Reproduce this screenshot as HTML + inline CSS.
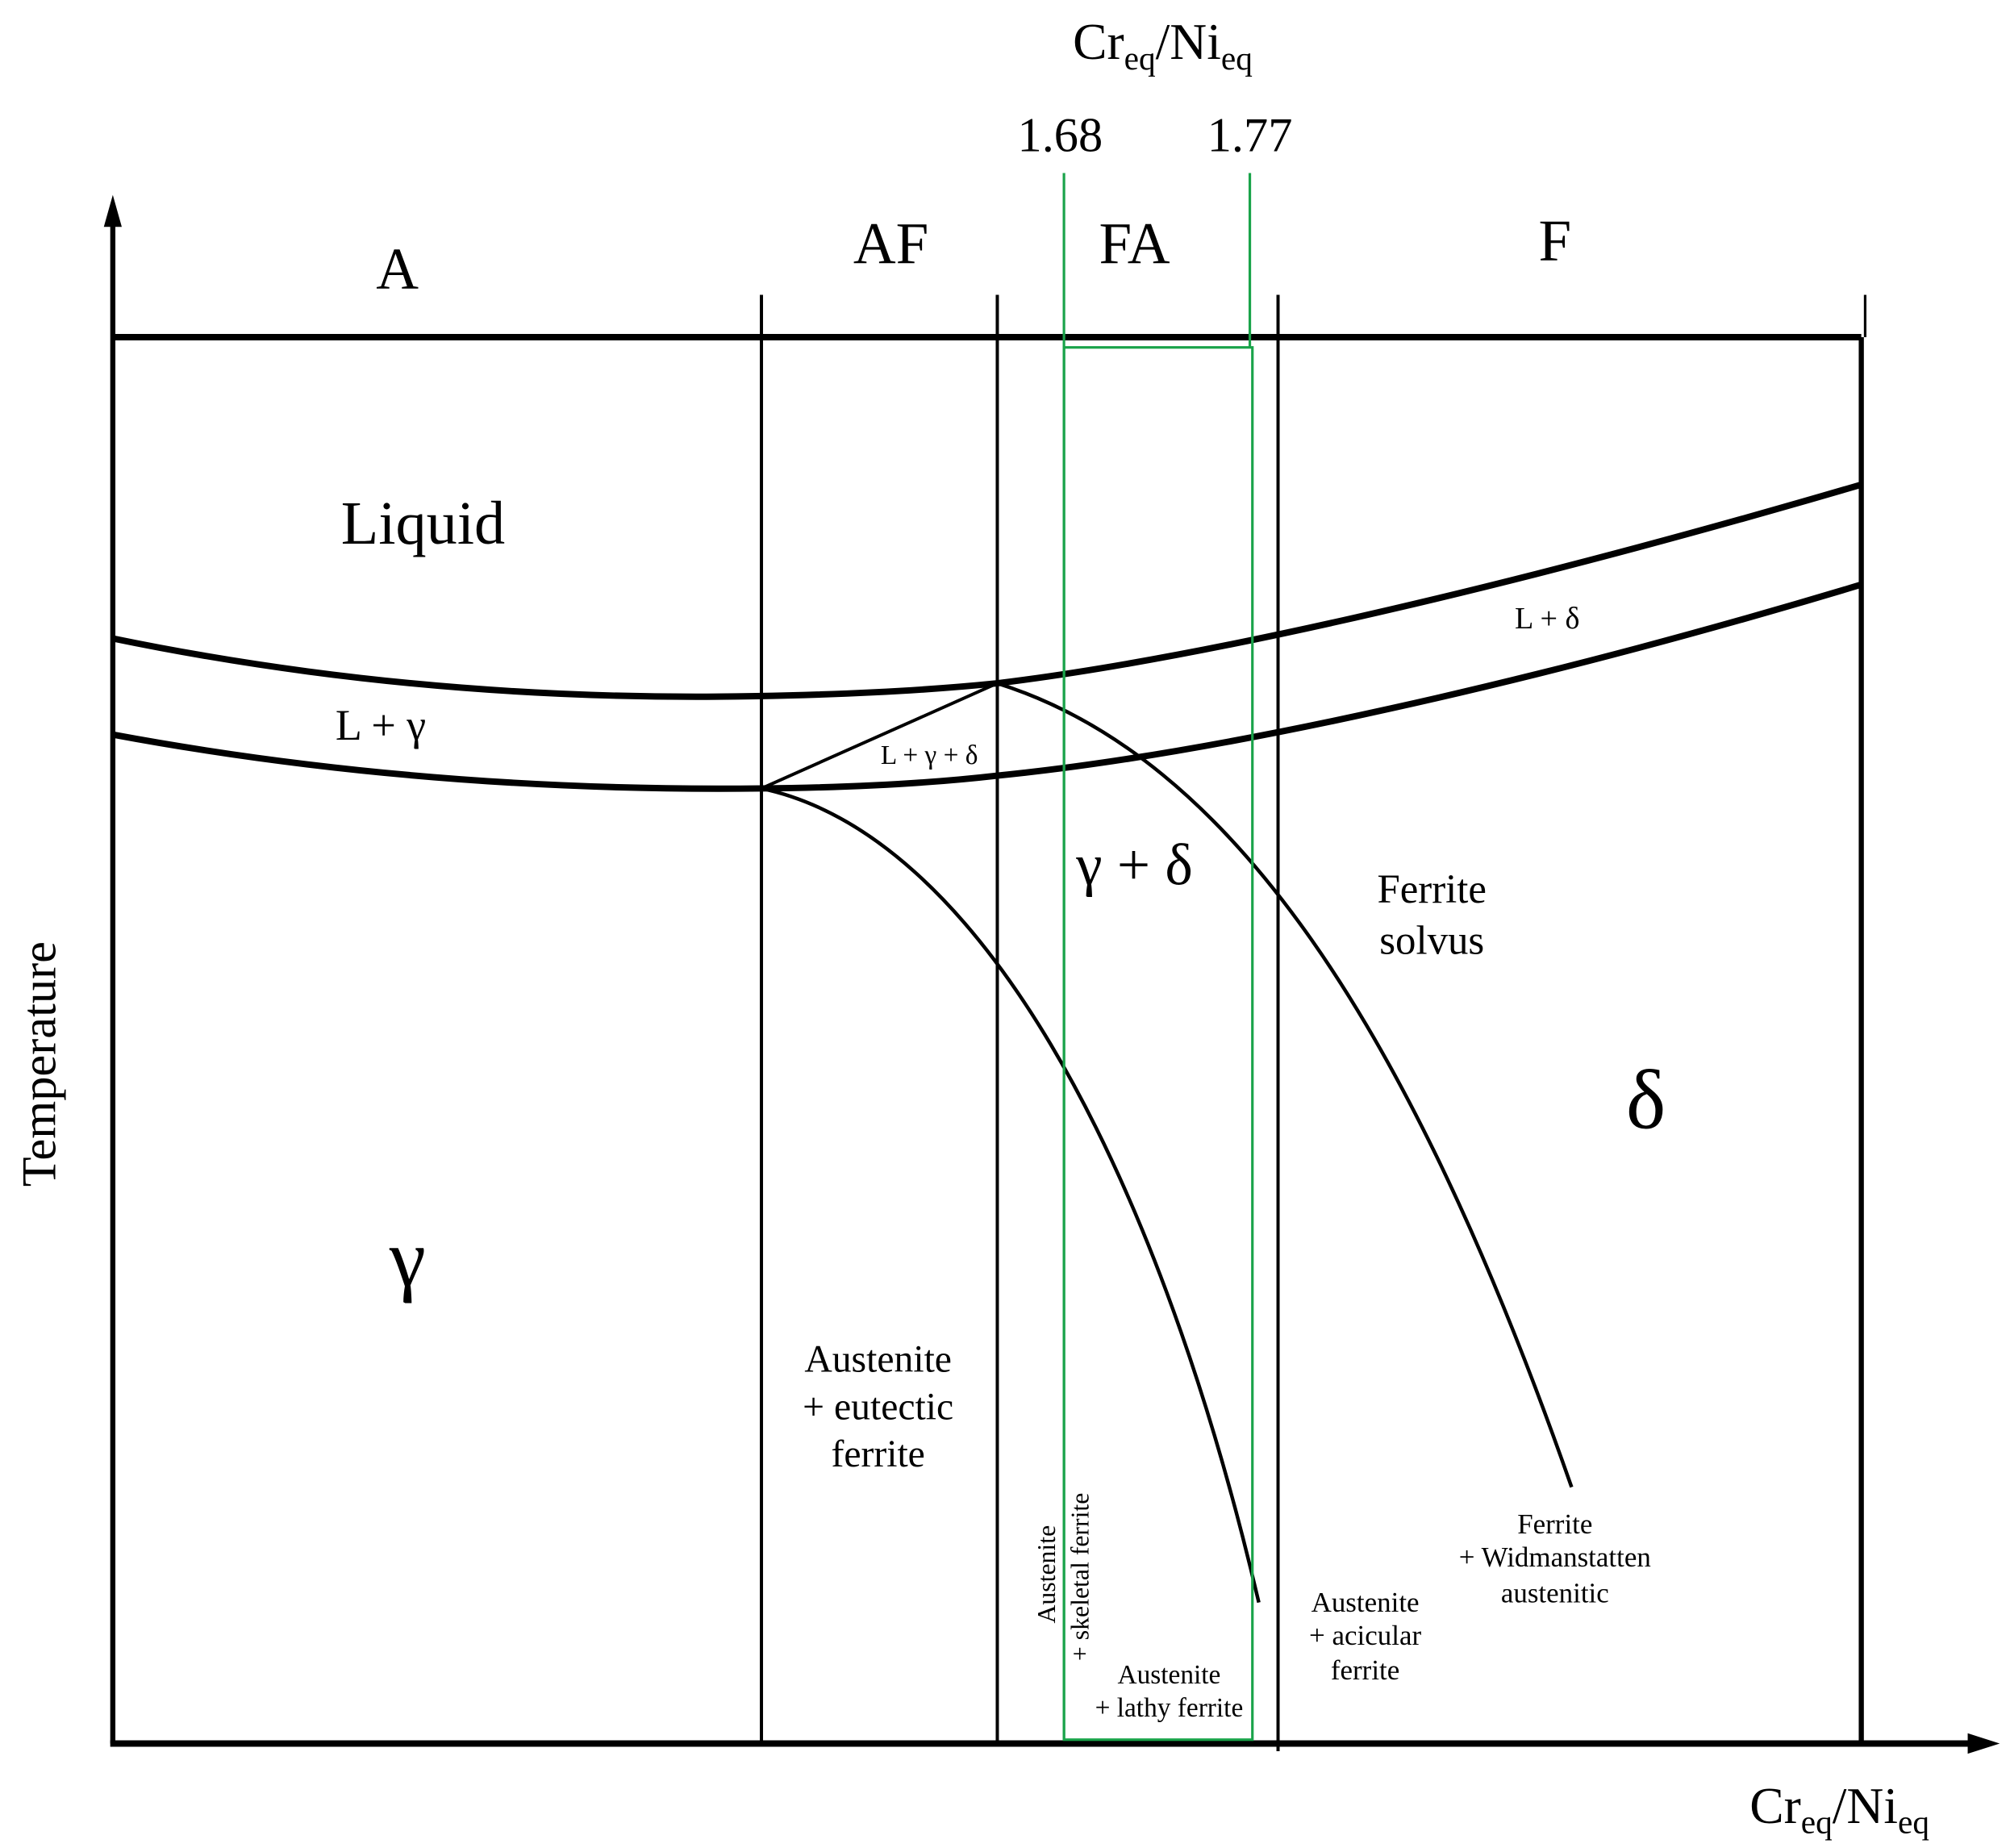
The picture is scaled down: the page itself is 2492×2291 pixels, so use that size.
<!DOCTYPE html>
<html><head><meta charset="utf-8"><style>
html,body{margin:0;padding:0;background:#fff;}
svg{display:block;}
text,tspan{font-family:"Liberation Serif",serif !important;fill:#000;}
</style></head><body>
<svg width="2492" height="2291" viewBox="0 0 1568 1441.5" preserveAspectRatio="none" xmlns="http://www.w3.org/2000/svg">
<g stroke="#000" fill="none">
<line x1="88" y1="1360" x2="88" y2="170" stroke-width="4"/>
<line x1="88" y1="263" x2="1452" y2="263" stroke-width="5"/>
<line x1="1452" y1="263" x2="1452" y2="1360" stroke-width="4"/>
<line x1="1455" y1="230" x2="1455" y2="263" stroke-width="2"/>
<line x1="594" y1="230" x2="594" y2="1360" stroke-width="2.5"/>
<line x1="778" y1="230" x2="778" y2="1360" stroke-width="2.5"/>
<line x1="997" y1="230" x2="997" y2="1366" stroke-width="2.5"/>
<line x1="86" y1="1360" x2="1545" y2="1360" stroke-width="5"/>
<path d="M88,498 Q330,548 590,543 Q700,541 778,533 C950,512 1200,452 1452,378" stroke-width="5"/>
<path d="M88,573 Q330,618 594,615 Q700,614 778,605 C950,588 1200,532 1452,456" stroke-width="5"/>
<line x1="594" y1="615" x2="778" y2="533" stroke-width="2.5"/>
<path d="M594,615 C760,650 900,900 982,1250" stroke-width="2.8"/>
<path d="M778,533 C960,590 1100,800 1226,1160" stroke-width="2.8"/>
</g>
<polygon points="88,152 81,177 95,177" fill="#000"/>
<polygon points="1560,1360 1535,1352 1535,1368" fill="#000"/>
<g stroke="#1aa34a" fill="none" stroke-width="2">
<line x1="830" y1="135" x2="830" y2="1357"/>
<line x1="975" y1="135" x2="975" y2="271"/>
<rect x="830" y="271" width="147" height="1086"/>
</g>
<g text-anchor="middle" font-family="Liberation Serif, serif">
<text x="907" y="46" font-size="40">Cr<tspan font-size="26" dy="8">eq</tspan><tspan dy="-8">/Ni</tspan><tspan font-size="26" dy="8">eq</tspan></text>
<text x="827" y="118" font-size="38">1.68</text>
<text x="975" y="118" font-size="38">1.77</text>
<text x="310" y="225" font-size="46">A</text>
<text x="695" y="205" font-size="46">AF</text>
<text x="885" y="205" font-size="46">FA</text>
<text x="1213" y="203" font-size="46">F</text>
<text x="330" y="424" font-size="48">Liquid</text>
<text x="297" y="577" font-size="34">L + γ</text>
<text x="725" y="596" font-size="21">L + γ + δ</text>
<text x="1207" y="490" font-size="24">L + δ</text>
<text x="885" y="690" font-size="46">γ + δ</text>
<text x="1117" y="704" font-size="32">Ferrite</text>
<text x="1117" y="744" font-size="32">solvus</text>
<text x="1284" y="880" font-size="66">δ</text>
<text x="318" y="1003" font-size="64">γ</text>
<text x="685" y="1070" font-size="30">Austenite</text>
<text x="685" y="1107" font-size="30">+ eutectic</text>
<text x="685" y="1144" font-size="30">ferrite</text>
<text x="912" y="1313" font-size="21">Austenite</text>
<text x="912" y="1339" font-size="21">+ lathy ferrite</text>
<text x="1065" y="1257" font-size="22">Austenite</text>
<text x="1065" y="1283" font-size="22">+ acicular</text>
<text x="1065" y="1310" font-size="22">ferrite</text>
<text x="1213" y="1196" font-size="22">Ferrite</text>
<text x="1213" y="1222" font-size="22">+ Widmanstatten</text>
<text x="1213" y="1250" font-size="22">austenitic</text>
<text transform="translate(823,1228) rotate(-90)" font-size="20">Austenite</text>
<text transform="translate(849,1230) rotate(-90)" font-size="20">+ skeletal ferrite</text>
<text transform="translate(43,830) rotate(-90)" font-size="38">Temperature</text>
<text x="1435" y="1422" font-size="40">Cr<tspan font-size="26" dy="8">eq</tspan><tspan dy="-8">/Ni</tspan><tspan font-size="26" dy="8">eq</tspan></text>
</g>
</svg>
</body></html>
